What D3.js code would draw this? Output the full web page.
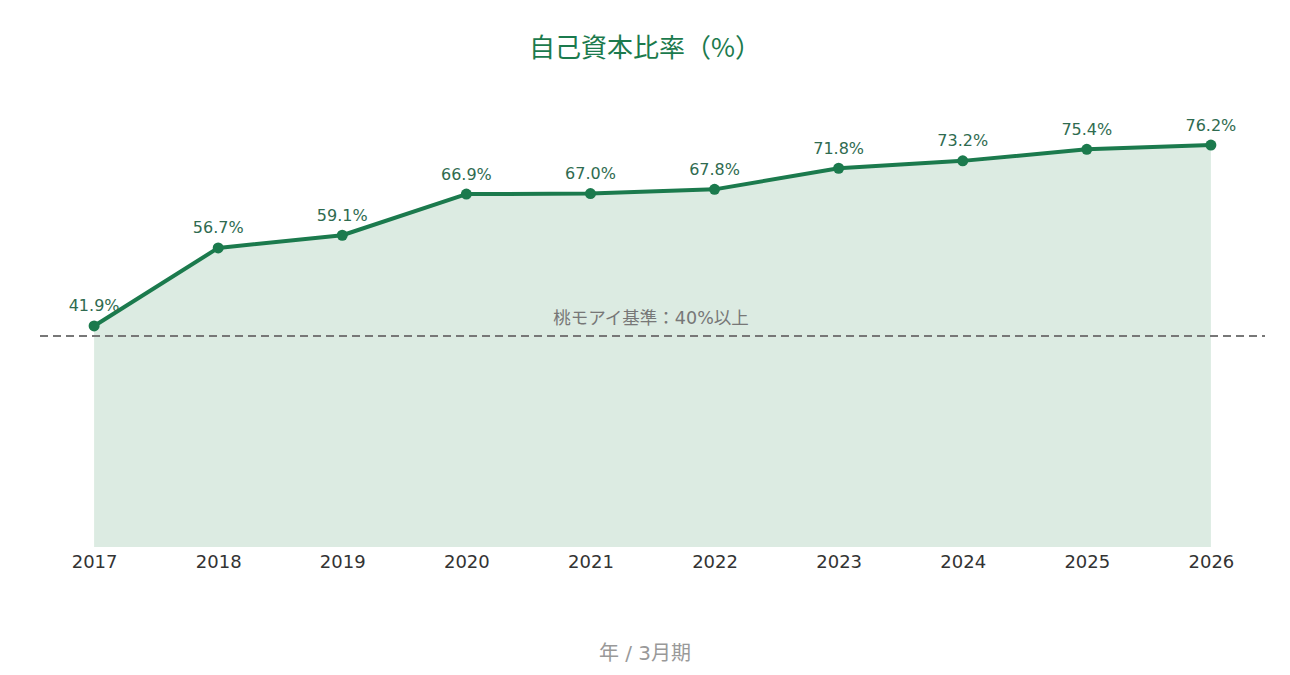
<!DOCTYPE html>
<html><head><meta charset="utf-8">
<script src="https://cdn.jsdelivr.net/npm/d3@7"></script>
<style>html,body{margin:0;padding:0;background:#fff;}svg{display:block;font-family:"DejaVu Sans","Noto Sans CJK JP",sans-serif;}</style>
</head><body>
<svg id="c" width="1290" height="675"></svg>
<script>
const years = ["2017","2018","2019","2020","2021","2022","2023","2024","2025","2026"];
const ratio = [41.9,56.7,59.1,66.9,67.0,67.8,71.8,73.2,75.4,76.2];
const benchmark = 40;
const benchmarkLabel = "桃モアイ基準：40%以上";
const title = "自己資本比率（%）";
const xTitle = "年 / 3月期";

const FONT = '"DejaVu Sans","Noto Sans CJK JP",sans-serif';
const svg = d3.select("#c");
const left = 40, right = 1265, bottom = 547;
const x = d3.scalePoint().domain(years).range([left, right]).padding(0.436);
const y = d3.scaleLinear().domain([0, 100]).range([bottom, bottom - 527.5]);
const data = years.map((d,i)=>({year:d, v:ratio[i]}));

svg.append("text").attr("x",645).attr("y",50).attr("text-anchor","middle")
  .attr("dominant-baseline","middle").attr("fill","#1b7a4d").attr("font-size",26)
  .attr("font-family",'"Noto Sans CJK JP",sans-serif').text(title);

svg.append("path").datum(data)
  .attr("d", d3.area().x(d=>x(d.year)).y0(y(0)).y1(d=>y(d.v)))
  .attr("fill","#dcebe2");

svg.append("line").attr("x1",left).attr("x2",right).attr("y1",y(benchmark)).attr("y2",y(benchmark))
  .attr("stroke","#777").attr("stroke-width",2).attr("stroke-dasharray","8,5");
svg.append("text").attr("x",651).attr("y",y(benchmark)-17).attr("text-anchor","middle")
  .attr("dominant-baseline","middle").attr("fill","#777").attr("font-size",17.5).text(benchmarkLabel);

svg.append("path").datum(data)
  .attr("d", d3.line().x(d=>x(d.year)).y(d=>y(d.v)))
  .attr("fill","none").attr("stroke","#1b7a4d").attr("stroke-width",4).attr("stroke-linejoin","round");

svg.selectAll("circle.p").data(data).join("circle")
  .attr("cx",d=>x(d.year)).attr("cy",d=>y(d.v)).attr("r",5.5).attr("fill","#1b7a4d");

svg.selectAll("text.v").data(data).join("text")
  .attr("x",d=>x(d.year)).attr("y",d=>y(d.v)-19).attr("text-anchor","middle")
  .attr("dominant-baseline","middle").attr("fill","#2f6b50").attr("font-size",16)
  .text(d=>d.v.toFixed(1)+"%");

const ax = svg.append("g").attr("transform",`translate(0,${bottom})`)
  .call(d3.axisBottom(x).tickSize(0).tickPadding(8));
ax.select(".domain").remove();
ax.selectAll("text").attr("font-size",18).attr("fill","#333").attr("font-family",FONT);

svg.append("text").attr("x",645).attr("y",654).attr("text-anchor","middle")
  .attr("dominant-baseline","middle").attr("fill","#999").attr("font-size",20).text(xTitle);
</script>
</body></html>
